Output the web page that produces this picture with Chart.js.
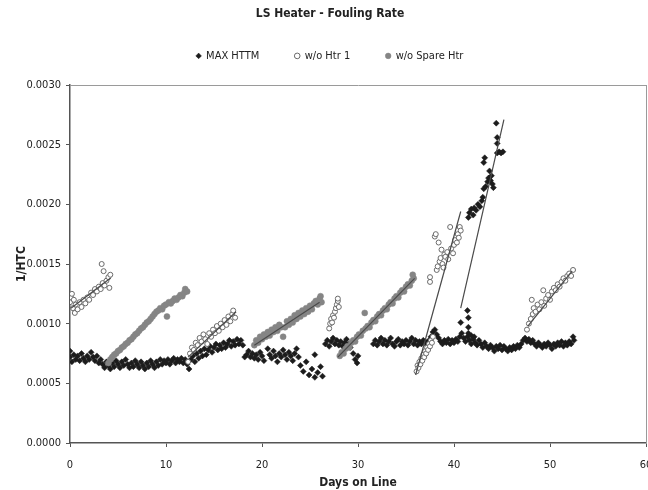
<!DOCTYPE html>
<html>
<head>
<meta charset="utf-8">
<script src="https://cdn.jsdelivr.net/npm/chart.js@4.4.1/dist/chart.umd.min.js"></script>
<style>
  html, body { margin: 0; padding: 0; background: #fff; overflow: hidden; }
  #frame { width: 648px; height: 490px; overflow: hidden; }
</style>
</head>
<body>
<div id="frame"><canvas id="chart" width="653" height="490"></canvas></div>
<script>
const chartTitle = "LS Heater - Fouling Rate";
const seriesNames = ["MAX HTTM", "w/o Htr 1", "w/o Spare Htr"];
const xTitle = "Days on Line";
const yTitle = "1/HTC";
const dayTicks = [0, 10, 20, 30, 40, 50, 60];
const htcTicks = [0, 0.0005, 0.001, 0.0015, 0.002, 0.0025, 0.003];

// [days on line, 1/HTC]
const maxHttm = [
  [0.0,0.00072],[0.0,0.00077],[0.2,0.00068],[0.4,0.00074],[0.6,0.00070],[0.8,0.00073],[1.0,0.00069],[1.2,0.00075],
  [1.4,0.00071],[1.6,0.00068],[1.8,0.00073],[2.0,0.00070],[2.2,0.00076],[2.4,0.00072],[2.6,0.00069],[2.8,0.00073],
  [3.0,0.00067],[3.2,0.00070],[3.4,0.00066],[3.6,0.00063],[3.8,0.00068],[4.0,0.00065],[4.2,0.00062],[4.4,0.00067],
  [4.6,0.00064],[4.8,0.00069],[5.0,0.00066],[5.2,0.00063],[5.4,0.00068],[5.6,0.00065],[5.8,0.00070],[6.0,0.00066],
  [6.2,0.00063],[6.4,0.00067],[6.6,0.00064],[6.8,0.00069],[7.0,0.00066],[7.2,0.00063],[7.4,0.00068],[7.6,0.00065],
  [7.8,0.00062],[8.0,0.00067],[8.2,0.00064],[8.4,0.00069],[8.6,0.00066],[8.8,0.00063],[9.0,0.00068],[9.2,0.00065],
  [9.4,0.00070],[9.6,0.00066],[9.8,0.00069],[10.0,0.00067],[10.2,0.00070],[10.4,0.00066],[10.6,0.00069],[10.8,0.00071],
  [11.0,0.00067],[11.2,0.00070],[11.4,0.00068],[11.6,0.00071],[11.8,0.00067],[12.0,0.00070],[12.2,0.00066],[12.4,0.00062],
  [12.6,0.00070],[12.8,0.00073],[13.0,0.00068],[13.2,0.00075],[13.4,0.00071],[13.6,0.00077],[13.8,0.00073],[14.0,0.00079],
  [14.2,0.00074],[14.4,0.00078],[14.6,0.00081],[14.8,0.00076],[15.0,0.00080],[15.2,0.00083],[15.4,0.00078],[15.6,0.00082],
  [15.8,0.00079],[16.0,0.00084],[16.2,0.00080],[16.4,0.00083],[16.6,0.00086],[16.8,0.00081],[17.0,0.00085],[17.2,0.00082],
  [17.4,0.00087],[17.6,0.00083],[17.8,0.00086],[18.0,0.00082],[18.2,0.00072],[18.4,0.00074],[18.6,0.00077],[18.8,0.00072],
  [19.0,0.00075],[19.2,0.00071],[19.4,0.00074],[19.6,0.00070],[19.8,0.00076],[20.0,0.00073],[20.2,0.00069],[20.6,0.00079],
  [20.8,0.00074],[21.0,0.00071],[21.2,0.00077],[21.4,0.00073],[21.6,0.00068],[21.8,0.00075],[22.0,0.00072],[22.2,0.00078],
  [22.4,0.00074],[22.6,0.00070],[22.8,0.00076],[23.0,0.00073],[23.2,0.00069],[23.4,0.00075],[23.6,0.00079],[23.8,0.00072],
  [24.0,0.00065],[24.3,0.00060],[24.6,0.00068],[24.9,0.00057],[25.2,0.00062],[25.5,0.00074],[25.5,0.00055],[25.8,0.00059],
  [26.1,0.00064],[26.3,0.00056],[26.6,0.00083],[26.8,0.00086],[27.0,0.00081],[27.2,0.00085],[27.4,0.00088],[27.6,0.00083],
  [27.8,0.00086],[28.0,0.00082],[28.2,0.00085],[28.4,0.00081],[28.6,0.00084],[28.8,0.00087],[29.0,0.00083],[29.2,0.00080],
  [29.5,0.00075],[29.7,0.00070],[29.9,0.00067],[30.0,0.00073],[31.6,0.00083],[31.8,0.00086],[32.0,0.00082],[32.2,0.00085],
  [32.4,0.00088],[32.6,0.00083],[32.8,0.00086],[33.0,0.00082],[33.2,0.00085],[33.4,0.00088],[33.6,0.00083],[33.8,0.00081],
  [34.0,0.00085],[34.2,0.00087],[34.4,0.00082],[34.6,0.00085],[34.8,0.00083],[35.0,0.00086],[35.2,0.00082],[35.4,0.00085],
  [35.6,0.00088],[35.8,0.00083],[36.0,0.00086],[36.2,0.00082],[36.4,0.00085],[36.6,0.00083],[36.8,0.00086],[37.0,0.00085],
  [37.2,0.00082],[37.4,0.00086],[37.6,0.00089],[37.8,0.00093],[38.0,0.00095],[38.2,0.00091],[38.4,0.00088],[38.6,0.00085],
  [38.8,0.00083],[39.0,0.00086],[39.2,0.00084],[39.4,0.00087],[39.6,0.00083],[39.8,0.00086],[40.0,0.00084],[40.2,0.00087],
  [40.4,0.00085],[40.6,0.00089],[40.8,0.00092],[41.0,0.00088],[41.2,0.00085],[41.4,0.00089],[41.5,0.00092],[41.6,0.00086],
  [41.8,0.00090],[41.8,0.00083],[42.0,0.00087],[42.1,0.00089],[42.2,0.00084],[42.4,0.00082],[42.6,0.00086],[42.8,0.00083],
  [43.0,0.00080],[43.2,0.00084],[43.4,0.00081],[43.6,0.00079],[43.8,0.00082],[44.0,0.00080],[44.2,0.00077],[44.4,0.00081],
  [44.6,0.00079],[44.8,0.00082],[45.0,0.00078],[45.2,0.00081],[45.4,0.00079],[45.6,0.00077],[45.8,0.00080],[46.0,0.00078],
  [46.2,0.00081],[46.4,0.00079],[46.6,0.00082],[46.8,0.00080],[47.0,0.00083],[47.2,0.00086],[47.4,0.00088],[47.6,0.00085],
  [47.8,0.00087],[48.0,0.00084],[48.2,0.00086],[48.4,0.00083],[48.6,0.00081],[48.8,0.00084],[49.0,0.00082],[49.2,0.00080],
  [49.4,0.00083],[49.6,0.00081],[49.8,0.00084],[50.0,0.00082],[50.2,0.00079],[50.4,0.00083],[50.6,0.00081],[50.8,0.00084],
  [51.0,0.00082],[51.2,0.00085],[51.4,0.00081],[51.6,0.00084],[51.8,0.00082],[52.0,0.00085],[52.2,0.00083],[52.4,0.00089],
  [52.5,0.00086],
  [40.7,0.00101],[41.4,0.00111],[41.5,0.00105],[41.5,0.00097],
  [41.5,0.00189],[41.6,0.00193],[41.8,0.00196],[42.0,0.00191],[42.1,0.00197],[42.3,0.00195],[42.5,0.00200],[42.7,0.00198],
  [42.9,0.00203],[43.0,0.00206],[43.1,0.00213],[43.3,0.00215],[43.5,0.00219],[43.6,0.00222],[43.8,0.00220],[44.0,0.00217],
  [43.9,0.00224],[44.1,0.00214],[43.1,0.00235],[43.2,0.00239],[43.7,0.00228],[44.5,0.00243],[44.7,0.00244],[44.9,0.00243],
  [45.1,0.00244],[44.5,0.00251],[44.5,0.00256],[44.4,0.00268]
];

const htr1 = [
  [0.0,0.00118],[0.1,0.00122],[0.2,0.00125],[0.3,0.00113],[0.4,0.00120],[0.5,0.00109],[0.6,0.00116],[0.8,0.00112],
  [1.0,0.00118],[1.2,0.00114],[1.4,0.00120],[1.6,0.00117],[1.8,0.00122],[2.0,0.00120],[2.2,0.00126],[2.4,0.00124],
  [2.6,0.00129],[2.8,0.00127],[3.0,0.00131],[3.2,0.00129],[3.3,0.00150],[3.4,0.00134],[3.5,0.00144],[3.6,0.00132],
  [3.8,0.00136],[4.0,0.00139],[4.1,0.00130],[4.2,0.00141],
  [12.3,0.00068],[12.5,0.00075],[12.7,0.00080],[12.9,0.00078],[13.1,0.00084],[13.3,0.00082],[13.5,0.00088],[13.7,0.00085],
  [13.9,0.00091],[14.1,0.00087],[14.3,0.00083],[14.5,0.00092],[14.7,0.00089],[14.9,0.00095],[15.1,0.00092],[15.3,0.00098],
  [15.5,0.00094],[15.7,0.00100],[15.9,0.00097],[16.1,0.00103],[16.3,0.00099],[16.5,0.00106],[16.7,0.00102],[16.9,0.00108],
  [17.0,0.00111],[17.2,0.00105],
  [27.0,0.00096],[27.1,0.00100],[27.2,0.00104],[27.3,0.00101],[27.4,0.00107],[27.5,0.00105],[27.6,0.00110],[27.7,0.00113],
  [27.8,0.00116],[27.9,0.00119],[28.0,0.00114],[27.9,0.00121],
  [36.1,0.00060],[36.2,0.00065],[36.3,0.00063],[36.4,0.00068],[36.5,0.00066],[36.6,0.00071],[36.7,0.00069],[36.8,0.00074],
  [36.9,0.00072],[37.0,0.00077],[37.1,0.00075],[37.2,0.00080],[37.3,0.00078],[37.4,0.00083],[37.5,0.00081],[37.6,0.00086],
  [37.7,0.00084],[37.8,0.00089],[37.5,0.00139],[37.5,0.00135],
  [38.0,0.00173],[38.1,0.00175],[38.2,0.00145],[38.3,0.00148],[38.4,0.00168],[38.5,0.00152],[38.6,0.00155],[38.7,0.00162],
  [38.8,0.00150],[38.9,0.00147],[39.0,0.00158],[39.1,0.00156],[39.3,0.00160],[39.4,0.00154],[39.6,0.00181],[39.7,0.00163],
  [39.9,0.00159],[40.0,0.00166],[40.1,0.00170],[40.3,0.00168],[40.4,0.00175],[40.5,0.00172],[40.6,0.00181],[40.7,0.00178],
  [47.6,0.00095],[47.8,0.00100],[48.0,0.00104],[48.1,0.00120],[48.2,0.00108],[48.3,0.00113],[48.5,0.00110],[48.7,0.00116],
  [48.9,0.00112],[49.1,0.00118],[49.3,0.00128],[49.4,0.00115],[49.6,0.00121],[49.8,0.00124],[50.0,0.00120],[50.2,0.00127],
  [50.4,0.00130],[50.6,0.00128],[50.8,0.00133],[51.0,0.00131],[51.2,0.00135],[51.4,0.00138],[51.6,0.00136],[51.8,0.00140],
  [52.0,0.00142],[52.2,0.00140],[52.4,0.00145]
];

const spareHtr = [
  [4.0,0.00067],[4.2,0.00070],[4.4,0.00072],[4.6,0.00074],[4.8,0.00075],[5.0,0.00077],[5.2,0.00078],[5.4,0.00080],
  [5.6,0.00081],[5.8,0.00083],[6.0,0.00084],[6.2,0.00086],[6.4,0.00087],[6.6,0.00089],[6.8,0.00091],[7.0,0.00092],
  [7.2,0.00094],[7.4,0.00096],[7.6,0.00097],[7.8,0.00099],[8.0,0.00101],[8.2,0.00102],[8.4,0.00104],[8.6,0.00106],
  [8.8,0.00108],[9.0,0.00110],[9.2,0.00111],[9.4,0.00113],[9.6,0.00112],[9.8,0.00115],[10.0,0.00116],[10.1,0.00106],
  [10.3,0.00118],[10.5,0.00117],[10.7,0.00119],[10.9,0.00121],[11.1,0.00120],[11.3,0.00122],[11.5,0.00124],[11.7,0.00123],
  [11.9,0.00126],[12.0,0.00129],[12.2,0.00127],
  [19.2,0.00082],[19.4,0.00086],[19.6,0.00084],[19.8,0.00089],[20.0,0.00087],[20.2,0.00091],[20.4,0.00089],[20.6,0.00093],
  [20.8,0.00090],[21.0,0.00095],[21.2,0.00093],[21.4,0.00097],[21.6,0.00094],[21.8,0.00099],[22.0,0.00097],[22.2,0.00089],
  [22.4,0.00097],[22.6,0.00102],[22.8,0.00099],[23.0,0.00104],[23.2,0.00101],[23.4,0.00107],[23.6,0.00104],[23.8,0.00109],
  [24.0,0.00106],[24.2,0.00111],[24.4,0.00108],[24.6,0.00113],[24.8,0.00110],[25.0,0.00115],[25.2,0.00112],[25.4,0.00117],
  [25.6,0.00119],[25.8,0.00116],[26.0,0.00121],[26.1,0.00123],[26.2,0.00118],
  [28.1,0.00073],[28.3,0.00076],[28.5,0.00075],[28.7,0.00079],[28.9,0.00081],[29.1,0.00080],[29.3,0.00084],[29.5,0.00086],
  [29.7,0.00085],[29.9,0.00089],[30.1,0.00091],[30.3,0.00090],[30.5,0.00094],[30.7,0.00109],[30.8,0.00096],[31.0,0.00098],
  [31.2,0.00097],[31.4,0.00101],[31.6,0.00103],[31.8,0.00102],[32.0,0.00106],[32.2,0.00108],[32.4,0.00107],[32.6,0.00111],
  [32.8,0.00113],[33.0,0.00112],[33.2,0.00116],[33.4,0.00118],[33.6,0.00117],[33.8,0.00121],[34.0,0.00123],[34.2,0.00122],
  [34.4,0.00126],[34.6,0.00128],[34.8,0.00127],[35.0,0.00131],[35.2,0.00133],[35.4,0.00132],[35.6,0.00136],[35.7,0.00141],
  [35.8,0.00138]
];

// linear trend lines: start and end points
const trendStart = [[0.1,0.00113],[12.3,0.00072],[19.2,0.00082],[27.9,0.00072],[36.0,0.00057],[40.7,0.00113],[47.7,0.00098]];
const trendEnd   = [[4.2,0.00138],[17.3,0.00110],[26.0,0.00118],[35.9,0.00138],[40.7,0.00194],[45.2,0.00271],[52.3,0.00144]];

const FONT = "'Liberation Sans Narrow', 'Arial Narrow', 'DejaVu Sans Condensed', sans-serif";
Chart.defaults.font.family = FONT;
Chart.defaults.color = '#222';

const toXY = arr => arr.map(p => ({x: p[0], y: p[1]}));

const datasets = [
  { label: seriesNames[0], data: toXY(maxHttm), pointStyle: 'rectRot', pointRadius: 3,
    backgroundColor: '#1c1c1c', borderColor: '#1c1c1c', borderWidth: 0.5, order: 3 },
  { label: seriesNames[1], data: toXY(htr1), pointStyle: 'circle', pointRadius: 2.5,
    backgroundColor: '#ffffff', borderColor: '#6a6a6a', borderWidth: 1, order: 2 },
  { label: seriesNames[2], data: toXY(spareHtr), pointStyle: 'circle', pointRadius: 3,
    backgroundColor: '#858585', borderColor: '#858585', borderWidth: 0.5, order: 1 }
];
trendStart.forEach((s, i) => {
  datasets.push({
    label: 'trend', data: [{x: s[0], y: s[1]}, {x: trendEnd[i][0], y: trendEnd[i][1]}],
    showLine: true, pointRadius: 0, borderColor: '#4a4a4a', borderWidth: 1.2, order: 0
  });
});

// canvas is 5px wider than the window so the plot frame reaches x=646 and "60" is cut like the original
new Chart(document.getElementById('chart'), {
  type: 'scatter',
  data: { datasets },
  options: {
    responsive: false,
    animation: false,
    layout: { padding: { left: 12, right: 5, top: 0, bottom: 0 } },
    plugins: {
      tooltip: { enabled: false },
      title: { display: true, text: chartTitle, color: '#222',
               font: { size: 12, weight: 'bold' }, padding: { top: 7, bottom: -7 } },
      legend: {
        position: 'top',
        labels: {
          usePointStyle: true, boxWidth: 4, boxHeight: 4, padding: 36,
          font: { size: 11 }, color: '#222',
          filter: item => item.datasetIndex < 3,
          sort: (a, b) => a.datasetIndex - b.datasetIndex
        }
      }
    },
    scales: {
      x: {
        type: 'linear', position: 'bottom', min: 0, max: 60,
        afterBuildTicks: s => { s.ticks = dayTicks.map(v => ({ value: v })); },
        afterFit: s => { s.height = 47; s.paddingLeft = 0; s.paddingRight = 0; },
        grid: { display: true, drawOnChartArea: false, tickLength: 4, color: '#555' },
        border: { display: true, color: '#555', width: 1.5 },
        ticks: { padding: 12, maxRotation: 0, font: { size: 11 }, color: '#222' },
        title: { display: true, text: xTitle, color: '#222',
                 font: { size: 12, weight: 'bold' }, padding: { top: 0, bottom: 0 } }
      },
      y: {
        type: 'linear', position: 'left', min: 0, max: 0.003,
        afterBuildTicks: s => { s.ticks = htcTicks.map(v => ({ value: v })); },
        afterFit: s => { s.width = 58; },
        grid: { display: true, drawOnChartArea: false, tickLength: 4, color: '#555' },
        border: { display: true, color: '#555', width: 1.5 },
        ticks: { padding: 5, font: { size: 11 }, color: '#222', callback: v => v.toFixed(4) },
        title: { display: true, text: yTitle, color: '#222',
                 font: { size: 12, weight: 'bold' }, padding: { top: 3, bottom: 0 } }
      },
      xTop: {
        type: 'linear', position: 'top', min: 0, max: 60,
        afterFit: s => { s.height = 13.6; s.paddingLeft = 0; s.paddingRight = 0; },
        grid: { display: false }, ticks: { display: false },
        border: { display: true, color: '#9a9a9a', width: 1 }
      },
      yRight: {
        type: 'linear', position: 'right', min: 0, max: 1,
        afterFit: s => { s.width = 2; },
        grid: { display: false }, ticks: { display: false },
        border: { display: true, color: '#9a9a9a', width: 1 }
      }
    }
  }
});
</script>
</body>
</html>
